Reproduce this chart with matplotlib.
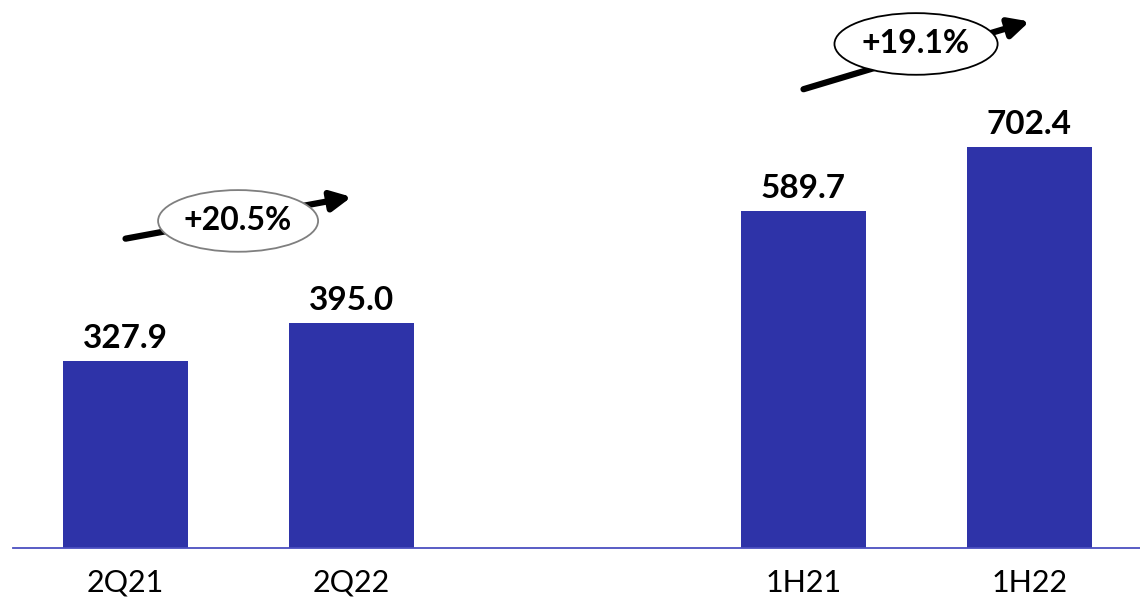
import matplotlib.pyplot as plt
from matplotlib.patches import Ellipse

categories = ["2Q21", "2Q22", "1H21", "1H22"]
positions = [0, 1, 3, 4]
values = [327.9, 395.0, 589.7, 702.4]
growth_labels = ["+20.5%", "+19.1%"]

BAR_COLOR = "#2E33A8"
plt.rcParams["font.family"] = ["Lato", "DejaVu Sans"]

fig = plt.figure(figsize=(11.4, 6.01), dpi=100)
ax = fig.add_axes([13 / 1140, 53 / 601, 1127 / 1140, 548 / 601])

ax.bar(positions, values, width=0.553, color=BAR_COLOR, zorder=2)

# value labels above the bars
for x, v in zip(positions, values):
    ax.text(x, v + 14, f"{v:.1f}", ha="center", va="bottom",
            fontsize=24, fontweight="bold", color="black")

ax.set_xlim(-0.498, 4.489)
ax.set_ylim(0, 960)
ax.set_xticks(positions)
ax.set_xticklabels(categories, fontsize=22)
ax.tick_params(axis="x", length=0, pad=15)
ax.set_yticks([])
for side in ["left", "right", "top"]:
    ax.spines[side].set_visible(False)
ax.spines["bottom"].set_color("#4B4FC0")
ax.spines["bottom"].set_linewidth(1.3)

# growth arrows with oval badges
pairs = [(0, 1, 0.498, 573, 0.708, 108, "#7F7F7F"),
         (2, 3, 3.498, 883, 0.722, 108, "black")]
for (i, j, cx, cy, w, h, ec), lab in zip(pairs, growth_labels):
    ax.annotate("", xy=(positions[j], values[j] + 220),
                xytext=(positions[i], values[i] + 214),
                arrowprops=dict(arrowstyle="-|>", color="black", lw=4.5,
                                mutation_scale=30, shrinkA=0, shrinkB=0),
                annotation_clip=False, zorder=3)
    ax.add_patch(Ellipse((cx, cy), w, h, facecolor="white", edgecolor=ec,
                         lw=1.3, zorder=4, clip_on=False))
    ax.text(cx, cy, lab, ha="center", va="center", fontsize=23,
            fontweight="bold", zorder=5)

fig.savefig("out.png", dpi=100)
